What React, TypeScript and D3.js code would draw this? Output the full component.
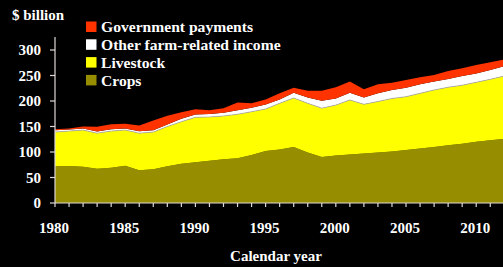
import React, { useMemo } from 'react';
import * as d3 from 'd3';

// calendar years shown on the x axis
const years = d3.range(1980, 2013);

// series values, $ billion
const crops = [72.5, 72.5, 71, 67, 69, 73, 64, 66, 72, 77, 80, 83, 85.6, 87.6, 94, 102, 105, 110, 99, 90, 93, 95, 97, 99, 101, 104, 107, 110, 113, 116, 120, 123, 126];
const livestock = [66.5, 68.5, 72, 70, 72, 70, 73, 73, 78, 82.5, 88, 85.6, 85, 86.4, 85, 82.3, 90.4, 96, 96.4, 96, 99, 107, 96.5, 100, 104, 104.5, 108, 111.6, 114, 115, 116.6, 119.5, 123];
const otherIncome = [3.5, 3, 3, 3, 3.5, 3, 3.5, 3.5, 4, 5.5, 5.5, 6, 6.4, 8, 8, 8.7, 7.6, 10, 11.6, 14.6, 13, 14, 13.5, 16, 16.6, 17.5, 17.7, 16.4, 16, 18, 17.4, 18.3, 19.6];
const govPayments = [2, 2, 4, 9.5, 10, 9.5, 11.5, 19.5, 17, 13, 10.5, 7.5, 9, 15, 8.5, 10, 12, 10, 13, 19.4, 22, 22, 16, 18, 14.4, 15, 13.7, 13, 16, 15, 16.6, 15.2, 13];

const yTicks = [0, 50, 100, 150, 200, 250, 300];
const xLabels = [1980, 1985, 1990, 1995, 2000, 2005, 2010];

const seriesKeys = ['crops', 'livestock', 'other', 'gov'];
const seriesColors: Record<string, string> = {
  crops: '#968e00',
  livestock: '#ffff00',
  other: '#ffffff',
  gov: '#ff3300',
};
// legend is listed top to bottom
const legendItems = [
  { key: 'gov', label: 'Government payments' },
  { key: 'other', label: 'Other farm-related income' },
  { key: 'livestock', label: 'Livestock' },
  { key: 'crops', label: 'Crops' },
];

const W = 503;
const H = 267;
const FONT = '"Liberation Serif", "Times New Roman", serif';

export default function App() {
  const x = d3.scaleLinear().domain([1980, 2012]).range([55, 504.3]);
  const y = d3.scaleLinear().domain([0, 300]).range([203, 50]);

  const layers = useMemo(() => {
    const rows = years.map((yr, i) => ({
      year: yr,
      crops: crops[i],
      livestock: livestock[i],
      other: otherIncome[i],
      gov: govPayments[i],
    }));
    return d3.stack<any>().keys(seriesKeys)(rows);
  }, []);

  const area = d3
    .area<any>()
    .x((d) => x(d.data.year))
    .y0((d) => y(d[0]))
    .y1((d) => y(d[1]));

  const axisColor = '#e0d8d8';

  return (
    <div style={{ position: 'fixed', left: 0, top: 0 }}>
      <svg width={W} height={H} style={{ display: 'block', background: '#000' }} fontFamily={FONT}>
        <rect width={W} height={H} fill="#000" />

        {layers.map((layer) => (
          <path key={layer.key} d={area(layer) || ''} fill={seriesColors[layer.key]} />
        ))}
        {/* thin grey edge between livestock and the white band */}
        <path
          d={d3.line<any>().x((d) => x(d.data.year)).y((d) => y(d[1]))(layers[1]) || ''}
          fill="none"
          stroke="#aaa"
          strokeWidth={0.7}
        />

        {/* y axis */}
        <line x1={55} x2={55} y1={37} y2={203} stroke={axisColor} strokeWidth={1.2} />
        {yTicks.map((t) => (
          <g key={t} transform={`translate(0, ${y(t)})`}>
            <line x1={50} x2={55} stroke={axisColor} strokeWidth={1.2} />
            <text x={41} dy="0.35em" textAnchor="end" fill="#fff" fontSize={15} fontWeight="bold">
              {t}
            </text>
          </g>
        ))}
        <text x={12} y={20} fill="#fff" fontSize={15} fontWeight="bold">
          $ billion
        </text>

        {/* x axis */}
        <line x1={55} x2={W} y1={203} y2={203} stroke={axisColor} strokeWidth={1.2} />
        {years.map((yr) => (
          <line key={yr} x1={x(yr)} x2={x(yr)} y1={203} y2={207} stroke={axisColor} strokeWidth={1.2} />
        ))}
        {xLabels.map((yr) => (
          <text key={yr} x={x(yr) - 1} y={233} textAnchor="middle" fill="#fff" fontSize={15} fontWeight="bold">
            {yr}
          </text>
        ))}
        <text x={276} y={261} textAnchor="middle" fill="#fff" fontSize={15} fontWeight="bold">
          Calendar year
        </text>

        {/* legend */}
        {legendItems.map((item, i) => (
          <g key={item.key} transform={`translate(86, ${27 + i * 17.8})`}>
            <rect x={0} y={-5.5} width={10.5} height={10.5} fill={seriesColors[item.key]} />
            <text x={15} dy="0.35em" fill="#fff" fontSize={15.6} fontWeight="bold">
              {item.label}
            </text>
          </g>
        ))}
      </svg>
    </div>
  );
}
